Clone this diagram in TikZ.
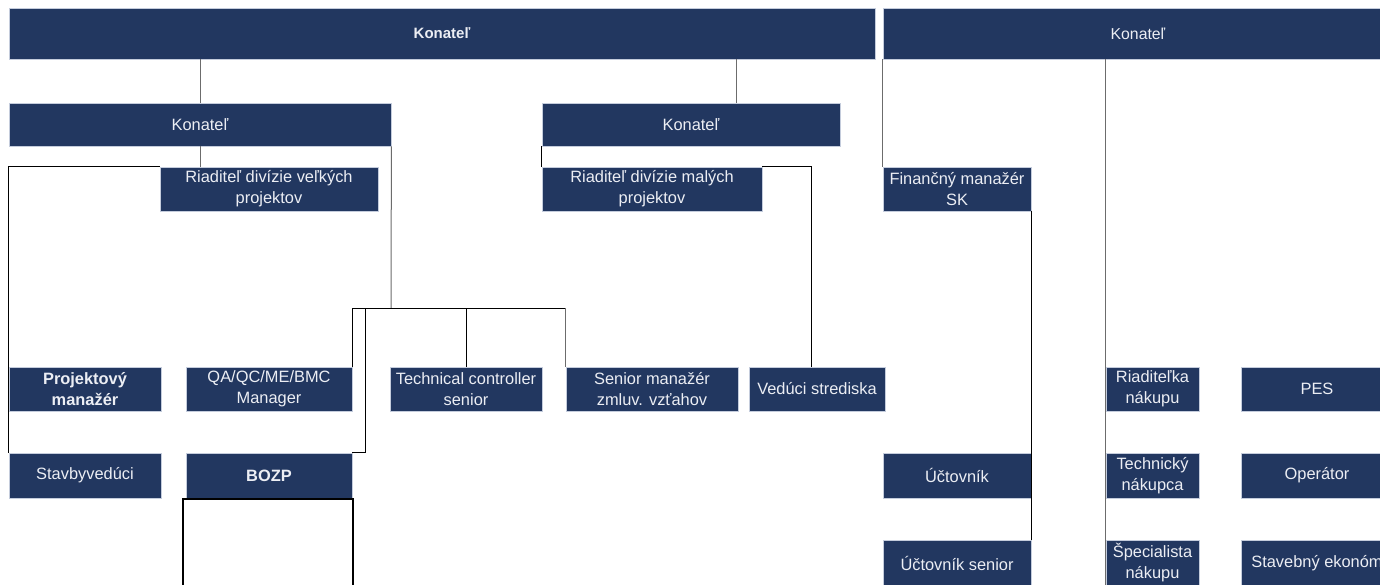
\documentclass[tikz,border=0pt]{standalone}
\usepackage{fontspec}
\setmainfont{Liberation Sans}
\definecolor{orgblue}{RGB}{34,55,96}
\definecolor{orgedge}{RGB}{196,204,220}
\definecolor{orgtext}{RGB}{236,238,244}
\tikzset{
    box/.style={rectangle, fill=orgblue, draw=orgedge, line width=0.8pt, text=orgtext,
        align=center, inner sep=0pt, font=\fontsize{16.4}{21}\selectfont},
    dim/.style 2 args={minimum width=#1pt, minimum height=#2pt},
    link/.style={black, line width=1pt},
    glink/.style={gray!85!black, line width=1pt},
}
\begin{document}
\begin{tikzpicture}[x=1pt, y=-1pt]
        \clip (0,0) rectangle (1380,584);
        \fill[white] (0,0) rectangle (1380,584);

        % top level
        \node[box, dim={866}{51}, font=\fontsize{15}{21}\selectfont] (konL) at (442,33.5) {\textbf{Konateľ}};
        \node[box, dim={510}{51}, font=\fontsize{15.8}{21}\selectfont] (konR) at (1138,33.5) {Konateľ};

        % second level
        \node[box, dim={382}{43}] (konA) at (200,124.5) {Konateľ};
        \node[box, dim={298}{43}] (konB) at (691,124.5) {Konateľ};

        \node[box, dim={218}{44}] (velke) at (269,189) {Riaditeľ divízie veľkých\\projektov};
        \node[box, dim={220}{44}] (male) at (652,189) {Riaditeľ divízie malých\\projektov};
        \node[box, dim={148}{44}] (financ) at (957,189) {Finančný manažér\\SK};

        % third row
        \node[box, dim={152}{44}] (projm) at (85,389) {\textbf{Projektový}\\\textbf{manažér}};
        \node[box, dim={166}{44}] (qaqc) at (269,389) {QA/QC/ME/BMC\\Manager};
        \node[box, dim={152}{44}] (techc) at (466,389) {Technical controller\\senior};
        \node[box, dim={172}{44}] (senior) at (652,389) {Senior manažér\\zmluv. vzťahov};
        \node[box, dim={136}{44}] (veduci) at (817,389) {Vedúci strediska};
        \node[box, dim={93}{44}] (riadn) at (1152.5,389) {Riaditeľka\\nákupu};
        \node[box, dim={152}{44}] (pes) at (1317,389) {PES};

        % fourth row
        \node[box, dim={152}{45}] (stavb) at (85,475.5) {Stavbyvedúci};
        \node[box, dim={166}{45}] (bozp) at (269,475.5) {\textbf{BOZP}};
        \node[box, dim={148}{45}] (uct) at (957,475.5) {Účtovník};
        \node[box, dim={93}{45}] (techn) at (1152.5,475.5) {Technický\\nákupca};
        \node[box, dim={152}{45}] (oper) at (1317,475.5) {Operátor};

        % fifth row
        \node[box, dim={148}{46}] (ucts) at (957,563) {Účtovník senior};
        \node[box, dim={93}{46}] (specn) at (1152.5,563) {Špecialista\\nákupu};
        \node[box, dim={152}{46}] (staveko) at (1317,563) {Stavebný ekonóm};

        % empty box under BOZP
        \draw[black, line width=1.5pt] (183,499) rectangle (353,600);

        % connectors
        \coordinate (bus) at (391,308);
        \draw[glink] (konA.north) -- (konA.north |- konL.south);
        \draw[glink] ([xshift=45pt]konB.north) -- ([xshift=45pt]konB.north |- konL.south);
        \draw[glink] (konA.south) -- (konA.south |- velke.north);
        \draw[link] (velke.north west) -| (stavb.north west);
        \draw[glink] (konA.south east) -- (bus);
        \draw[link] (qaqc.north east) -- (qaqc.north east |- bus) -- (senior.north west |- bus);
        \draw[glink] (senior.north west |- bus) -- (senior.north west);
        \draw[link] (techc.north) -- (techc.north |- bus);
        \draw[link] ([xshift=13pt]qaqc.north east |- bus) |- (bozp.north east);
        \draw[link] (konB.south west) -- (male.north west);
        \draw[link] (male.north east) -| ([xshift=-6pt]veduci.north);
        \draw[glink] (financ.north west) -- (financ.north west |- konR.south);
        \draw[link] (financ.south east) -- (ucts.north east);
        \draw[glink] (riadn.north west |- konR.south) -- (specn.south west);
\end{tikzpicture}
\end{document}
